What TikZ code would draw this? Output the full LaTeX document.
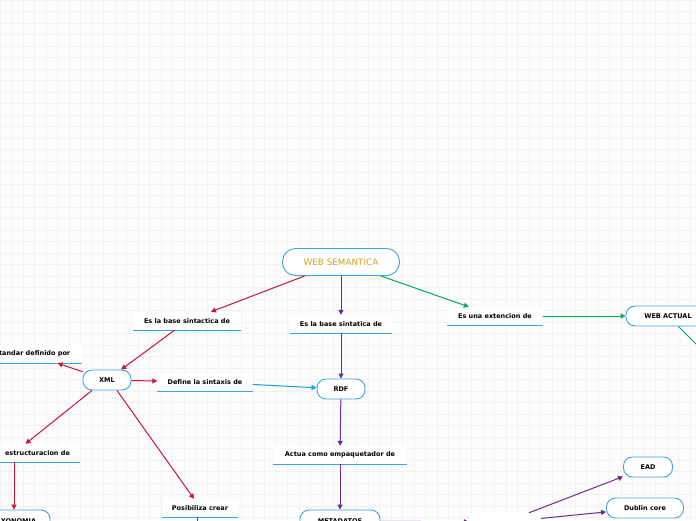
\documentclass[tikz,border=0pt]{standalone}
\usepackage{fontspec}
\setmainfont{DejaVu Sans}
\usepackage{xcolor}
\usepackage{tikz}
\usetikzlibrary{arrows.meta,positioning}
\definecolor{MapRed}{HTML}{C8143C}
\definecolor{MapPurple}{HTML}{6A2C91}
\definecolor{MapGreen}{HTML}{00A85A}
\definecolor{MapBlue}{HTML}{1E9BE6}
\definecolor{BoxBlue}{HTML}{3FA2E0}
\definecolor{TitleGold}{HTML}{C9A227}
\definecolor{GridGray}{HTML}{F1F1F1}
\definecolor{PaperGray}{HTML}{FCFCFC}

\tikzset{
  topic/.style={draw=BoxBlue,fill=white,line width=0.9pt,rounded corners=9pt,minimum height=20pt,inner sep=2pt,font=\fontsize{6.5}{7.5}\selectfont\bfseries},
  linklabel/.style={fill=white,minimum height=18pt,inner sep=2pt,font=\fontsize{6.5}{7.5}\selectfont\bfseries},
  link/.style={line width=1pt,-{Triangle[length=5pt,width=5pt]}},
  underline/.style={BoxBlue,line width=1.1pt}
}

\begin{document}
\begin{tikzpicture}[x=1pt,y=-1pt]
  \useasboundingbox (0,0) rectangle (696,520);
  \fill[PaperGray] (0,0) rectangle (696,520);
  \draw[GridGray,line width=0.5pt,step=11.5pt] (0,0) grid (696,520);

  \node[topic,minimum width=117pt,minimum height=27pt,rounded corners=13pt,text=TitleGold,font=\fontsize{8.8}{10}\selectfont] (web) at (341,262) {WEB SEMANTICA};
  \node[linklabel,minimum width=107pt] (base1) at (187,321) {Es la base sintactica de};
  \node[linklabel,minimum width=102pt] (base2) at (341,324) {Es la base sintatica de};
  \node[linklabel,minimum width=95pt] (ext) at (495,316) {Es una extencion de};
  \node[topic,minimum width=84pt] (actual) at (668,316) {WEB ACTUAL};
  \node[linklabel,minimum width=103pt] (estandar) at (30.5,354) {Estandar definido por};
  \node[topic,minimum width=48pt] (xml) at (107,380) {XML};
  \node[linklabel,minimum width=95pt] (sintaxis) at (205,382) {Define la sintaxis de};
  \node[topic,minimum width=48pt] (rdf) at (341,389) {RDF};
  \node[linklabel,minimum width=84pt] (estruct) at (37.5,453) {estructuracion de};
  \node[topic,minimum width=72pt,minimum height=22pt] (taxo) at (14,521) {TAXONOMIA};
  \node[linklabel,minimum width=75pt] (posib) at (200,508) {Posibiliza crear};
  \node[linklabel,minimum width=133pt] (empaq) at (340,455) {Actua como empaquetador de};
  \node[topic,minimum width=80pt,minimum height=22pt] (meta) at (340,521) {METADATOS};
  \node[linklabel,minimum width=72pt] (ejem) at (505,522) {};
  \node[topic,minimum width=49pt] (ead) at (648,467) {EAD};
  \node[topic,minimum width=77pt] (dublin) at (645,508) {Dublin core};
  \coordinate (actualout) at (712,360);
  \coordinate (posibout) at (197,540);

  \foreach \lbl in {base1,base2,ext,estandar,sintaxis,estruct,posib,empaq,ejem}
    \draw[underline] (\lbl.south west) -- (\lbl.south east);

  \draw[link,MapRed] (web) -- (base1);
  \draw[link,MapPurple] (web) -- (base2);
  \draw[link,MapGreen] (web) -- (ext);
  \draw[link,MapGreen] (ext) -- (actual);
  \draw[line width=1pt,MapGreen] (actual) -- (actualout);
  \draw[link,MapRed] (base1) -- (xml);
  \draw[link,MapRed] (xml) -- (estandar);
  \draw[link,MapRed] (xml) -- (sintaxis);
  \draw[link,MapBlue] (sintaxis) -- (rdf);
  \draw[link,MapPurple] (base2) -- (rdf);
  \draw[link,MapPurple] (rdf) -- (empaq);
  \draw[link,MapPurple] (empaq) -- (meta);
  \draw[link,MapRed] ([xshift=-15pt]xml.south) -- ([xshift=-12pt]estruct.north);
  \draw[link,MapRed] (estruct.south -| taxo.north) -- (taxo.north);
  \draw[link,MapRed] ([xshift=10pt]xml.south) -- ([xshift=-6pt]posib.north);
  \draw[line width=1pt,MapRed] (posib.south -| posibout) -- (posibout);
  \draw[link,MapPurple] (meta) -- (ejem);
  \draw[link,MapPurple] (ejem) -- (ead);
  \draw[link,MapPurple] (ejem) -- (dublin);
\end{tikzpicture}
\end{document}
